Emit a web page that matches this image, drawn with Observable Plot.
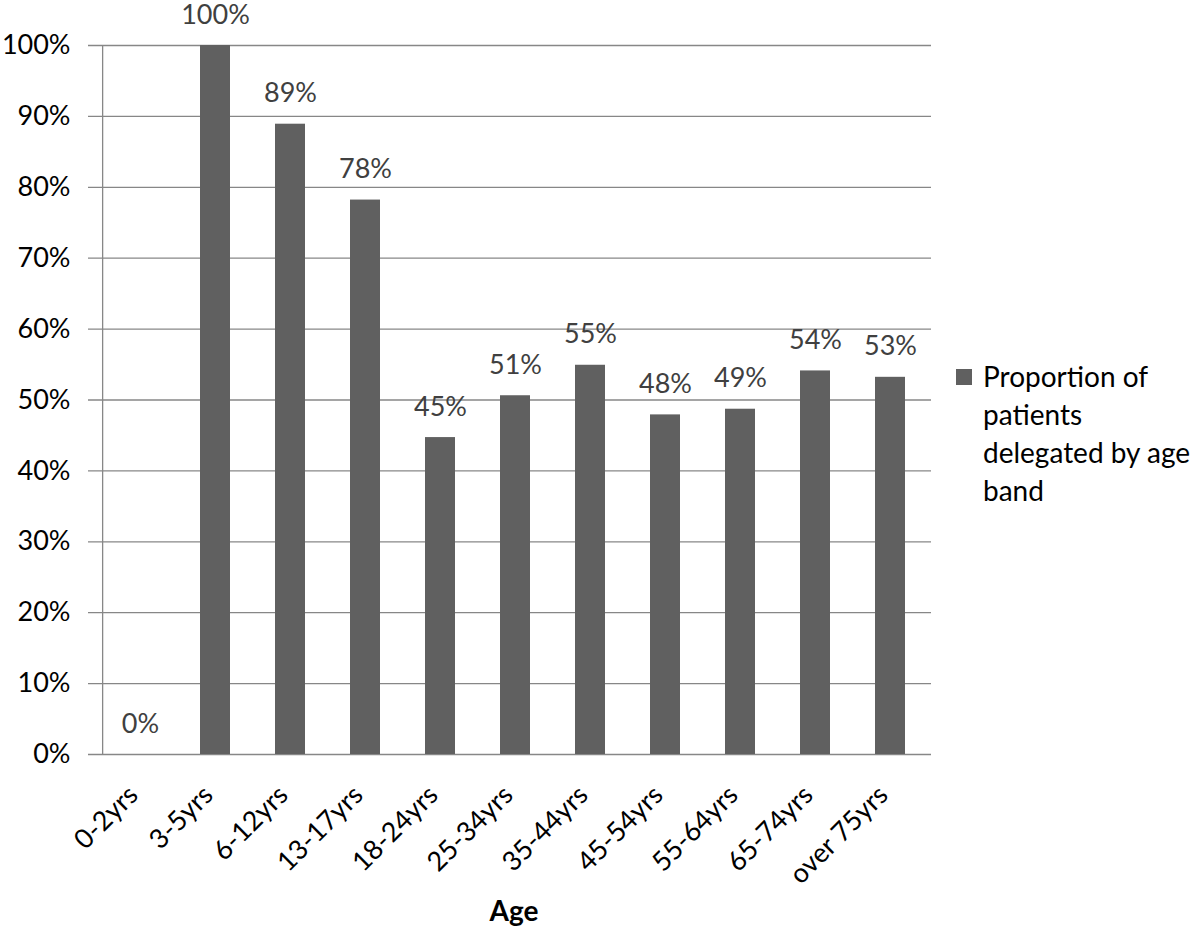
<!DOCTYPE html>
<html>
<head>
<meta charset="utf-8">
<script src="https://cdn.jsdelivr.net/npm/d3@7"></script>
<script src="https://cdn.jsdelivr.net/npm/@observablehq/plot@0.6"></script>
<style>
  body { margin: 0; background: #fff; }
  #wrap { position: relative; width: 1200px; height: 937px; font-family: Lato, "Open Sans", sans-serif; overflow: hidden; }
  #legend { position: absolute; left: 956px; top: 357px; font-size: 28px; line-height: 38px; color: #000; }
  #legend .sw { position: absolute; left: 0; top: 12px; width: 16px; height: 16px; background: #606060; }
  #legend .tx { margin-left: 27px; width: 218px; }
</style>
</head>
<body>
<div id="wrap">
  <div id="legend"><div class="sw"></div><div class="tx" id="legtext"></div></div>
</div>
<script>
const categories = ["0-2yrs","3-5yrs","6-12yrs","13-17yrs","18-24yrs","25-34yrs","35-44yrs","45-54yrs","55-64yrs","65-74yrs","over 75yrs"];
const values = [0, 1.00, 0.889, 0.782, 0.447, 0.506, 0.549, 0.479, 0.487, 0.541, 0.532];
const labels = ["0%","100%","89%","78%","45%","51%","55%","48%","49%","54%","53%"];
const yTicks = [0,0.1,0.2,0.3,0.4,0.5,0.6,0.7,0.8,0.9,1.0];
const seriesName = "Proportion of patients delegated by age band";
const xTitle = "Age";

const data = categories.map((c, i) => ({cat: c, v: values[i], label: labels[i]}));

document.getElementById("legtext").textContent = seriesName;

const W = 1200, ML = 98, MR = 269;
const step = (W - ML - MR) / categories.length;

const chart = Plot.plot({
  width: W,
  height: 937,
  marginLeft: ML,
  marginTop: 45,
  marginBottom: 183,
  marginRight: MR,
  style: {fontFamily: "Lato, 'Open Sans', sans-serif", background: "transparent"},
  x: {domain: categories, paddingInner: 0.6, paddingOuter: 0.3, label: null},
  y: {domain: [0, 1], label: null},
  marks: [
    Plot.ruleY(yTicks, {stroke: "#878787", strokeWidth: 1.3, insetLeft: -10}),
    Plot.ruleX([categories[0]], {x: d => d, dx: -step / 2, stroke: "#878787", strokeWidth: 1.3}),
    Plot.barY(data, {x: "cat", y: "v", fill: "#606060"}),
    Plot.text(data, {x: "cat", y: "v", text: "label", dy: -22, lineAnchor: "bottom", fontSize: 27, fill: "#404040"}),
    Plot.axisY({ticks: yTicks, tickFormat: d3.format(".0%"), tickSize: 0, tickPadding: 28, fontSize: 27, fill: "#000", label: null}),
    Plot.axisX({tickRotate: -45, tickSize: 0, tickPadding: 14, dx: -7, dy: 22, fontSize: 27, fill: "#000", label: null}),
    Plot.text([xTitle], {frameAnchor: "bottom", dy: 166, dx: -1, fontSize: 28, fontWeight: "bold", fill: "#000"})
  ]
});
document.getElementById("wrap").prepend(chart);
</script>
</body>
</html>
